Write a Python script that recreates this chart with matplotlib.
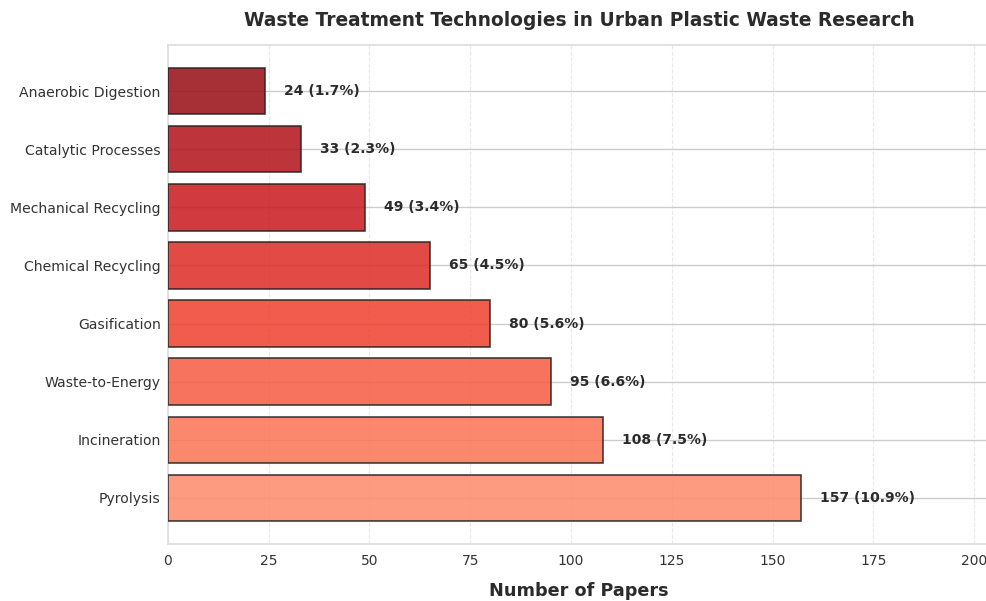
import numpy as np
import matplotlib
matplotlib.use("Agg")
import matplotlib.pyplot as plt
import seaborn as sns

technologies = ["Pyrolysis", "Incineration", "Waste-to-Energy", "Gasification",
                "Chemical Recycling", "Mechanical Recycling", "Catalytic Processes",
                "Anaerobic Digestion"]
papers = [157, 108, 95, 80, 65, 49, 33, 24]
shares = [10.9, 7.5, 6.6, 5.6, 4.5, 3.4, 2.3, 1.7]

sns.set_style("whitegrid")
plt.rcParams['font.family'] = ['DejaVu Sans']

fig, ax = plt.subplots(figsize=(9.87, 6.01), dpi=100)

colors = plt.cm.Reds(np.linspace(0.4, 0.9, len(papers)))
y = np.arange(len(papers))
ax.barh(y, papers, height=0.8, color=colors, alpha=0.85,
        edgecolor="#222222", linewidth=1.2, zorder=3)

ax.set_yticks(y)
ax.set_yticklabels(technologies, fontsize=10.1, color="#333333")
ax.set_xlim(0, max(papers) * 1.3)
ax.tick_params(axis="x", labelsize=10, colors="#333333")
ax.tick_params(axis="y", pad=1.8)

for yi, v, s in zip(y, papers, shares):
    ax.text(v + max(papers) * 0.03, yi, f"{v} ({s}%)", va="center", ha="left",
            fontsize=10, fontweight="bold", color="#2b2b2b", zorder=4)

ax.set_xlabel("Number of Papers", fontsize=12.7, fontweight="bold", color="#2b2b2b",
              labelpad=10)
ax.set_title("Waste Treatment Technologies in Urban Plastic Waste Research",
             fontsize=13.4, fontweight="bold", color="#2b2b2b", pad=14)

ax.xaxis.grid(True, linestyle="--", color="#e0e0e0", linewidth=0.8, alpha=0.7)
ax.yaxis.grid(True, linestyle="-", color="#cccccc", linewidth=1.0)
for sp in ax.spines.values():
    sp.set_color("#dddddd")
    sp.set_linewidth(1.2)

fig.subplots_adjust(left=0.1702, right=1.0036, top=0.925, bottom=0.095)
fig.savefig("out.png", dpi=100)
